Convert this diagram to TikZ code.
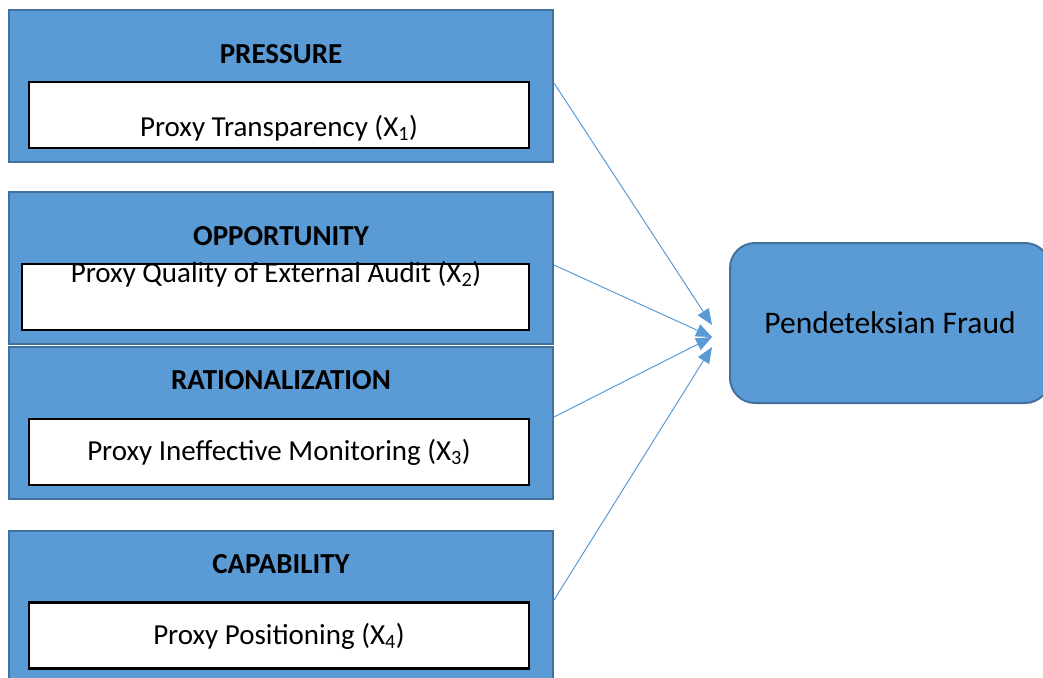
\documentclass[tikz,border=0pt]{standalone}
\usepackage{fontspec}
\setmainfont{Carlito}
\usepackage{tikz}
\usetikzlibrary{positioning, arrows.meta}
\definecolor{boxblue}{HTML}{5B9BD5}
\definecolor{edgeblue}{HTML}{41719C}
\tikzstyle{arrow} = [line width=1pt, draw=boxblue, -{Triangle[length=16pt,width=13pt,fill=boxblue]}]
\tikzstyle{factor} = [rectangle, minimum width=544pt, minimum height=152pt, draw=edgeblue, line width=2pt, fill=boxblue]
\tikzstyle{proxy} = [rectangle, minimum width=500pt, minimum height=66pt, draw=black, line width=2.5pt, fill=white]
\tikzstyle{heading} = [font=\fontsize{29}{35}\selectfont\bfseries]
\tikzstyle{item} = [font=\fontsize{29}{35}\selectfont]
\tikzstyle{outcome} = [rectangle, rounded corners=25pt, minimum width=320pt, minimum height=160pt, draw=edgeblue, line width=2pt, fill=boxblue, font=\fontsize{31.5}{38}\selectfont]

\begin{document}
\begin{tikzpicture}[x=1pt, y=-1pt]
\useasboundingbox (0,0) rectangle (1043,677);

% Fraud diamond factors
\node (pressure) [factor] at (281,86) {};
\node (opportunity) [factor] at (281,268) {};
\node (rationalization) [factor] at (281,423) {};
\node (capability) [factor] at (281,607) {};

\node (pressure_t) [heading] at (281,54) {PRESSURE};
\node (opportunity_t) [heading] at (281,236) {OPPORTUNITY};
\node (rationalization_t) [heading] at (281,380) {RATIONALIZATION};
\node (capability_t) [heading] at (281,564) {CAPABILITY};

% Proxies
\node (transparency_box) [proxy] at (279,115) {};
\node (audit_box) [proxy, minimum width=507pt] at (275.5,297) {};
\node (monitoring_box) [proxy] at (279,452) {};
\node (positioning_box) [proxy] at (279,635.5) {};

\node (transparency) [item] at (279,128) {Proxy Transparency (X\textsubscript{1})};
\node (audit) [item] at (276,274) {Proxy Quality of External Audit (X\textsubscript{2})};
\node (monitoring) [item] at (279,452) {Proxy Ineffective Monitoring (X\textsubscript{3})};
\node (positioning) [item] at (279,636) {Proxy Positioning (X\textsubscript{4})};

% Dependent variable
\node (fraud) [outcome] at (890,323) {Pendeteksian Fraud};

% Connections
\draw [arrow] ([yshift=3pt]pressure.east) -- ([xshift=-17pt, yshift=-2pt]fraud.west);
\draw [arrow] ([yshift=3pt]opportunity.east) -- ([xshift=-17pt, yshift=-14pt]fraud.west);
\draw [arrow] ([yshift=6pt]rationalization.east) -- ([xshift=-17pt, yshift=-14pt]fraud.west);
\draw [arrow] ([yshift=7pt]capability.east) -- ([xshift=-17pt, yshift=-24pt]fraud.west);

\end{tikzpicture}
\end{document}
